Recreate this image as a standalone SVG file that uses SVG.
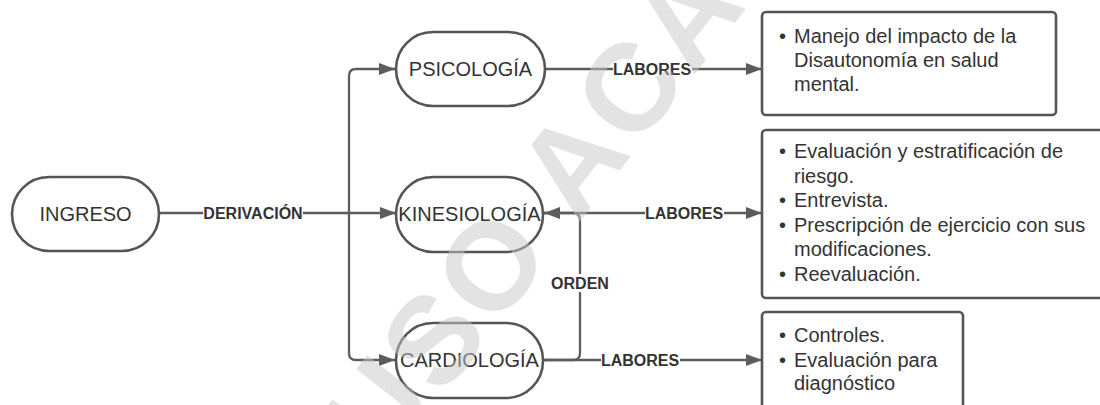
<svg xmlns="http://www.w3.org/2000/svg" width="1100" height="405" viewBox="0 0 1100 405">
<defs>
<style>
.node{fill:#fff;stroke:#555;stroke-width:2.6}
.ntext{font-family:"Liberation Sans",Arial,sans-serif;font-size:20px;fill:#333;text-anchor:middle}
.box{fill:#fff;stroke:#555;stroke-width:2.6}
.btext{font-family:"Liberation Sans",Arial,sans-serif;font-size:20px;fill:#333}
.conn{fill:none;stroke:#5c5c5c;stroke-width:2.3}
.lbl{font-family:"Liberation Sans",Arial,sans-serif;font-size:16px;font-weight:bold;fill:#333;text-anchor:middle}
.lblbg{fill:#fff}
.wm{font-family:"Liberation Sans",Arial,sans-serif;font-size:124px;font-weight:bold;fill:#c8c8c8;fill-opacity:0.5;letter-spacing:4px}
</style>
<marker id="arr" viewBox="0 0 16 12" refX="16" refY="6" markerWidth="16" markerHeight="12" markerUnits="userSpaceOnUse" orient="auto">
<path d="M0,0 L16,6 L0,12 Z" fill="#5c5c5c"/>
</marker>
</defs>
<rect width="1100" height="405" fill="#fff"/>

<g id="connectors">
<path class="conn" d="M159,213 H349"/>
<path class="conn" d="M395,69 H356 Q349,69 349,76 V353 Q349,360 356,360 H395" marker-end="url(#arr)"/>
<path class="conn" d="M380,69 H395" marker-end="url(#arr)"/>
<path class="conn" d="M349,213 H396" marker-end="url(#arr)"/>
<path class="conn" d="M545,69 H762" marker-end="url(#arr)"/>
<path class="conn" d="M543,213 H762" marker-end="url(#arr)"/>
<path class="conn" d="M543,360 H573 Q580,360 580,353 V220 Q580,213 573,213 H544" marker-end="url(#arr)"/>
<path class="conn" d="M543,360 H762" marker-end="url(#arr)"/>
<rect class="lblbg" x="203" y="204" width="100" height="18"/>
<text class="lbl" x="253" y="218.7">DERIVACIÓN</text>
<rect class="lblbg" x="613" y="60" width="79" height="18"/>
<text class="lbl" x="652" y="74.7">LABORES</text>
<rect class="lblbg" x="645" y="204" width="79" height="18"/>
<text class="lbl" x="684" y="218.7">LABORES</text>
<rect class="lblbg" x="601" y="351" width="79" height="18"/>
<text class="lbl" x="640" y="365.7">LABORES</text>
<rect class="lblbg" x="551" y="274" width="58" height="18"/>
<text class="lbl" x="580" y="288.7">ORDEN</text>
</g>

<g id="ingreso">
<rect class="node" x="12" y="177" width="147" height="74" rx="37"/>
<text class="ntext" x="85.5" y="221">INGRESO</text>
</g>
<g id="psicologia">
<rect class="node" x="396" y="32" width="149" height="74" rx="37"/>
<text class="ntext" x="470.5" y="76">PSICOLOGÍA</text>
</g>
<g id="kinesiologia">
<rect class="node" x="396" y="177" width="147" height="75" rx="37"/>
<text class="ntext" x="469.5" y="221">KINESIOLOGÍA</text>
</g>
<g id="cardiologia">
<rect class="node" x="396" y="323" width="147" height="75" rx="37"/>
<text class="ntext" x="469.5" y="367">CARDIOLOGÍA</text>
</g>

<g id="box-psicologia">
<rect class="box" x="762" y="12" width="294" height="103" rx="4"/>
<text class="btext"><tspan x="779" y="43">•</tspan><tspan x="794" y="43">Manejo del impacto de la</tspan><tspan x="794" y="67">Disautonomía en salud</tspan><tspan x="794" y="91">mental.</tspan></text>
</g>
<g id="box-kinesiologia">
<rect class="box" x="762" y="130" width="350" height="168" rx="4"/>
<text class="btext"><tspan x="779" y="158">•</tspan><tspan x="794" y="158">Evaluación y estratificación de</tspan><tspan x="794" y="182.5">riesgo.</tspan><tspan x="779" y="207">•</tspan><tspan x="794" y="207">Entrevista.</tspan><tspan x="779" y="231.5">•</tspan><tspan x="794" y="231.5">Prescripción de ejercicio con sus</tspan><tspan x="794" y="256">modificaciones.</tspan><tspan x="779" y="280.5">•</tspan><tspan x="794" y="280.5">Reevaluación.</tspan></text>
</g>
<g id="box-cardiologia">
<rect class="box" x="762" y="312" width="201" height="110" rx="4"/>
<text class="btext"><tspan x="779" y="342">•</tspan><tspan x="794" y="342">Controles.</tspan><tspan x="779" y="367">•</tspan><tspan x="794" y="367">Evaluación para</tspan><tspan x="794" y="390">diagnóstico</tspan></text>
</g>

<text class="wm" transform="translate(384,472) rotate(-52)">USO ACAD</text>
</svg>
